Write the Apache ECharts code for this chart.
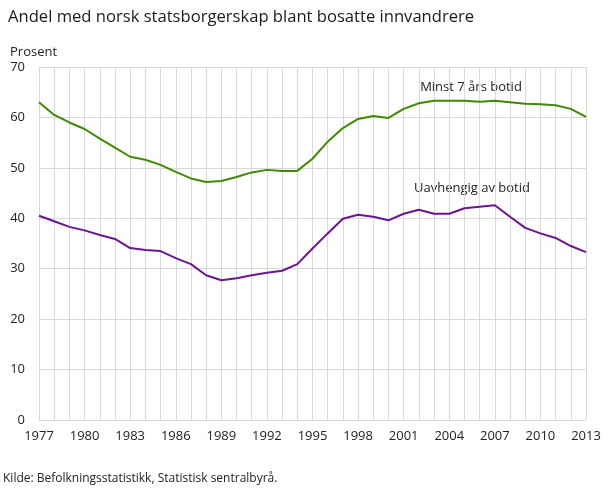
<!DOCTYPE html>
<html>
<head>
<meta charset="utf-8">
<script src="https://cdn.jsdelivr.net/npm/echarts@6/dist/echarts.min.js"></script>
<style>
html,body{margin:0;padding:0;background:#fff;}
#chart{width:609px;height:489px;}
</style>
</head>
<body>
<div id="chart"></div>
<script>
var years = ['1977','1978','1979','1980','1981','1982','1983','1984','1985','1986','1987','1988','1989','1990','1991','1992','1993','1994','1995','1996','1997','1998','1999','2000','2001','2002','2003','2004','2005','2006','2007','2008','2009','2010','2011','2012','2013'];
var minst7 = [63.0,60.5,59.0,57.7,55.8,54.0,52.2,51.6,50.6,49.2,47.9,47.2,47.4,48.2,49.1,49.6,49.4,49.4,51.8,55.2,57.9,59.7,60.3,59.9,61.7,62.8,63.3,63.3,63.3,63.1,63.3,63.0,62.7,62.6,62.4,61.7,60.1];
var uavhengig = [40.5,39.4,38.3,37.6,36.7,35.9,34.1,33.7,33.5,32.1,30.9,28.7,27.7,28.1,28.7,29.2,29.6,30.9,34.0,37.0,39.9,40.7,40.3,39.6,40.9,41.7,40.9,40.9,42.0,42.3,42.6,40.3,38.1,37.0,36.1,34.5,33.3];
var seriesNames = ['Minst 7 års botid','Uavhengig av botid'];
var titleText = 'Andel med norsk statsborgerskap blant bosatte innvandrere';
var yAxisName = 'Prosent';
var sourceText = 'Kilde: Befolkningsstatistikk, Statistisk sentralbyrå.';

var FONT = '"Open Sans", sans-serif';
var chart = echarts.init(document.getElementById('chart'), null, {renderer:'canvas'});
chart.setOption({
  animation:false,
  backgroundColor:'#fff',
  textStyle:{fontFamily:FONT},
  title:{text:titleText,left:3,top:4,textStyle:{fontFamily:FONT,fontSize:16.6,fontWeight:'normal',color:'#1a1a1a'}},
  grid:{left:39,right:23,top:67,bottom:69,containLabel:false},
  xAxis:{
    type:'category',data:years,boundaryGap:false,
    axisLine:{show:false},axisTick:{show:false},
    axisLabel:{interval:2,color:'#222',fontSize:13,fontFamily:FONT,margin:10},
    splitLine:{show:true,interval:0,lineStyle:{color:'#d9d9d9',width:1}}
  },
  yAxis:{
    type:'value',min:0,max:70,interval:10,
    name:yAxisName,nameLocation:'end',nameGap:8,
    nameTextStyle:{align:'left',padding:[0,0,0,-29],color:'#222',fontSize:13,fontFamily:FONT},
    axisLine:{show:false},axisTick:{show:false},
    axisLabel:{color:'#222',fontSize:13,fontFamily:FONT,margin:14},
    splitLine:{show:true,lineStyle:{color:'#d9d9d9',width:1}}
  },
  graphic:[
    {type:'text',left:3,top:473,style:{text:sourceText,fontFamily:FONT,fontSize:12,fill:'#222'}},
    {type:'text',x:471,y:87,style:{text:seriesNames[0],fontFamily:FONT,fontSize:13,fill:'#222',align:'center',verticalAlign:'middle'}},
    {type:'text',x:472,y:188,style:{text:seriesNames[1],fontFamily:FONT,fontSize:13,fill:'#222',align:'center',verticalAlign:'middle'}}
  ],
  series:[
    {name:seriesNames[0],type:'line',data:minst7,symbol:'none',lineStyle:{color:'#3f8a00',width:2},itemStyle:{color:'#3f8a00'}},
    {name:seriesNames[1],type:'line',data:uavhengig,symbol:'none',lineStyle:{color:'#6c1590',width:2},itemStyle:{color:'#6c1590'}}
  ]
});
</script>
</body>
</html>
